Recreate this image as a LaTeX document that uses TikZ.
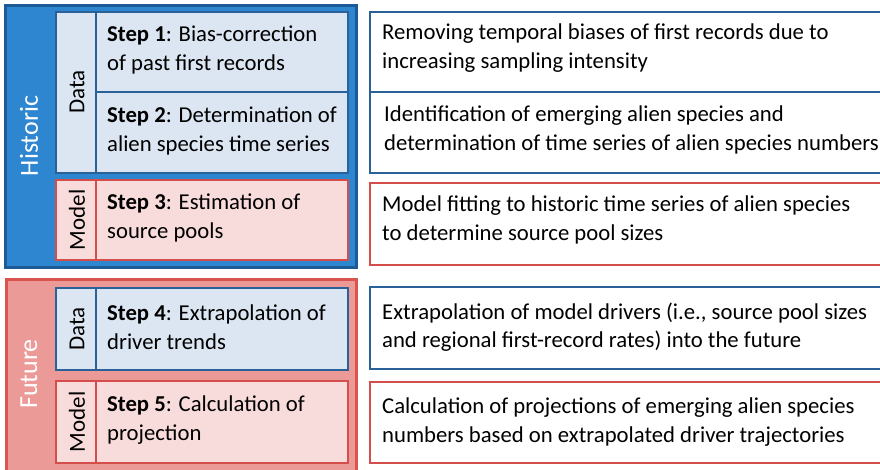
\documentclass[tikz,border=0pt]{standalone}
\usepackage{fontspec}
\setmainfont{Carlito}
\definecolor{hisfill}{HTML}{2F86D0}
\definecolor{hisdraw}{HTML}{1D5B98}
\definecolor{datafill}{HTML}{DCE6F2}
\definecolor{datadraw}{HTML}{2A6198}
\definecolor{futfill}{HTML}{EC9A98}
\definecolor{futdraw}{HTML}{D9534F}
\definecolor{modfill}{HTML}{F8DCDB}
\definecolor{moddraw}{HTML}{D44E4B}
\tikzset{
  phase/.style={line width=3pt},
  stepline/.style={line width=2.6pt},
  txt/.style={anchor=west, align=left, inner sep=0pt, font=\fontsize{22.7}{28.5}\selectfont},
  vlab/.style={rotate=90, inner sep=0pt, font=\fontsize{23}{26}\selectfont},
  plab/.style={rotate=90, inner sep=0pt, text=white, font=\fontsize{26}{30}\selectfont},
}
\begin{document}
\begin{tikzpicture}[x=1pt,y=-1pt]
\useasboundingbox (0,0) rectangle (880,469);
\clip (0,0) rectangle (880,469);
\fill[white] (0,0) rectangle (880,469);
% Historic
\draw[phase, draw=hisdraw, fill=hisfill] (5,5) rectangle (356,267);
\draw[stepline, draw=datadraw, fill=datafill] (56,12) rectangle (348,173);
\draw[stepline, draw=datadraw] (96,12) -- (96,173);
\draw[stepline, draw=datadraw] (96,92) -- (348,92);
\draw[stepline, draw=moddraw, fill=modfill] (56,180) rectangle (348,260);
\draw[stepline, draw=moddraw] (96,180) -- (96,260);
% Future
\draw[phase, draw=futdraw, fill=futfill] (6,279) rectangle (356,472);
\draw[stepline, draw=datadraw, fill=datafill] (56,288) rectangle (348,370);
\draw[stepline, draw=datadraw] (96,288) -- (96,370);
\draw[stepline, draw=moddraw, fill=modfill] (56,381) rectangle (348,463);
\draw[stepline, draw=moddraw] (96,381) -- (96,463);
% right boxes
\draw[stepline, draw=datadraw, fill=white] (370,12) rectangle (900,173);
\draw[stepline, draw=datadraw] (370,92) -- (900,92);
\draw[stepline, draw=moddraw, fill=white] (370,183) rectangle (900,265);
\draw[stepline, draw=datadraw, fill=white] (370,287) rectangle (900,369);
\draw[stepline, draw=moddraw, fill=white] (370,382) rectangle (900,463);
% phase labels
\node[plab] (historic) at (29,136) {Historic};
\node[plab] (future) at (29,374) {Future};
\node[vlab] (data1) at (77,92) {Data};
\node[vlab] (model1) at (77,220) {Model};
\node[vlab] (data2) at (77,329) {Data};
\node[vlab] (model2) at (77,422) {Model};
% step texts
\node[txt] (s1) at (107,50) {\textbf{Step 1}: Bias-correction\\of past first records};
\node[txt] (s2) at (107,131) {\textbf{Step 2}: Determination of\\alien species time series};
\node[txt] (s3) at (107,218) {\textbf{Step 3}: Estimation of\\source pools};
\node[txt] (s4) at (107,327) {\textbf{Step 4}: Extrapolation of\\driver trends};
\node[txt] (s5) at (107,420) {\textbf{Step 5}: Calculation of\\projection};
% descriptions
\node[txt] (d1) at (382,48) {Removing temporal biases of first records due to\\increasing sampling intensity};
\node[txt] (d2) at (384,130) {Identification of emerging alien species and\\determination of time series of alien species numbers};
\node[txt] (d3) at (382,220) {Model fitting to historic time series of alien species\\to determine source pool sizes};
\node[txt] (d4) at (382,327) {Extrapolation of model drivers (i.e., source pool sizes\\and regional first-record rates) into the future};
\node[txt] (d5) at (382,422) {Calculation of projections of emerging alien species\\numbers based on extrapolated driver trajectories};
\end{tikzpicture}
\end{document}
